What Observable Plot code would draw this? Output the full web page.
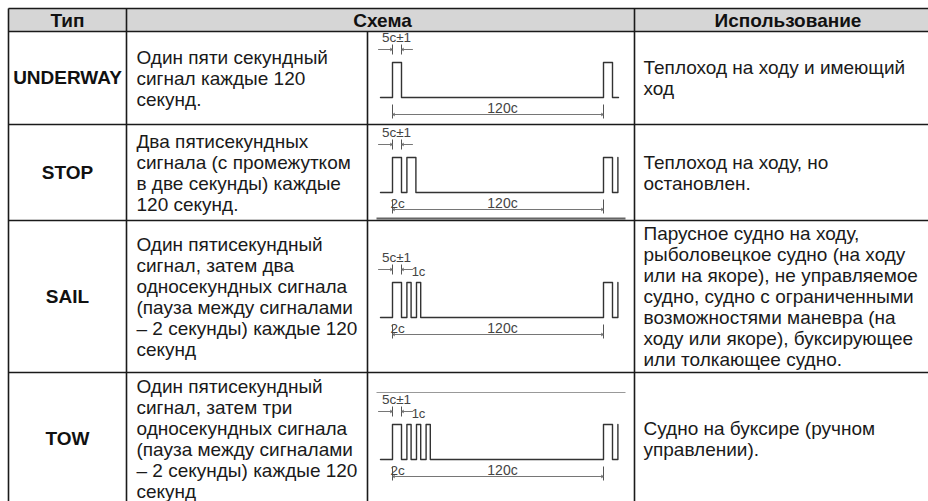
<!DOCTYPE html>
<html><head><meta charset="utf-8">
<script src="https://cdn.jsdelivr.net/npm/d3@7"></script>
<script src="https://cdn.jsdelivr.net/npm/@observablehq/plot@0.6"></script>
<style>body{margin:0;background:#fff}</style>
</head><body><div id="chart"></div>
<script>
// ---- data ----
const headers = ["Тип", "Схема", "Использование"];
const types = ["UNDERWAY", "STOP", "SAIL", "TOW"];
const descriptions = [
  ["Один пяти секундный", "сигнал каждые 120", "секунд."],
  ["Два пятисекундных", "сигнала (с промежутком", "в две секунды) каждые", "120 секунд."],
  ["Один пятисекундный", "сигнал, затем два", "односекундных сигнала", "(пауза между сигналами", "– 2 секунды) каждые 120", "секунд"],
  ["Один пятисекундный", "сигнал, затем три", "односекундных сигнала", "(пауза между сигналами", "– 2 секунды) каждые 120", "секунд"]
];
const usages = [
  ["Теплоход на ходу и имеющий", "ход"],
  ["Теплоход на ходу, но", "остановлен."],
  ["Парусное судно на ходу,", "рыболовецкое судно (на ходу", "или на якоре), не управляемое", "судно, судно с ограниченными", "возможностями маневра (на", "ходу или якоре), буксирующее", "или толкающее судно."],
  ["Судно на буксире (ручном", "управлении)."]
];
// signal patterns: alternating sound / pause durations (s), starting with sound
const patterns = [[5], [5, 2, 5], [5, 2, 1, 2, 1], [5, 2, 1, 2, 1, 2, 1]];
const periodSec = 120;
const longLabel = "5с±1", shortLabel = "1с", gapLabel = "2с", periodLabel = "120с";

// ---- layout ----
const W = 928, H = 501;
const colX = [8, 126, 367, 634, 941];
const headTop = 8, headBot = 31;
const rowB = [31, 124, 220, 372, 504];
const fontSize = 19, lineH = 21;
const font = "'Liberation Sans', Arial, sans-serif";
const diagX0 = 392, periodW = 211, pulseH = 35;
const diagBase = [97, 192, 317, 459];
const segW = d => 3 + 1.2 * d;

// grid segments
const grid = [];
[headTop, headBot, rowB[1], rowB[2], rowB[3]].forEach(y => grid.push({x1: colX[0], x2: W, y1: y, y2: y}));
[colX[0], colX[1], colX[3]].forEach(x => grid.push({x1: x, x2: x, y1: headTop, y2: H}));
grid.push({x1: colX[2], x2: colX[2], y1: headBot, y2: H});

const headerData = [
  {x: (colX[0] + colX[1]) / 2, text: headers[0]},
  {x: (colX[1] + colX[3]) / 2 + 2, text: headers[1]},
  {x: (colX[3] + colX[4]) / 2, text: headers[2]}
];
const rowMid = i => (rowB[i] + rowB[i + 1]) / 2;
const typeData = types.map((t, i) => ({x: (colX[0] + colX[1]) / 2, y: rowMid(i), text: t}));
const descData = descriptions.map((d, i) => ({x: colX[1] + 10, y: rowMid(i), text: d.join("\n")}));
const useData = usages.map((d, i) => ({x: colX[3] + 9, y: rowMid(i), text: d.join("\n")}));

// waveforms
const wavePts = [];
patterns.forEach((p, r) => {
  const b = diagBase[r], h = b - pulseH;
  const add = (x, y) => wavePts.push({row: r, x, y});
  add(diagX0 - 12, b);
  let x = diagX0;
  p.forEach((d, i) => {
    const w = segW(d);
    if (i % 2 === 0) { add(x, b); add(x, h); add(x + w, h); add(x + w, b); }
    x += w;
  });
  x = diagX0 + periodW; // one period (periodSec) later
  const w0 = segW(p[0]);
  add(x, b); add(x, h); add(x + w0, h); add(x + w0, b);
  x += w0;
  if (p.length > 1) { x += segW(p[1]); add(x, b); add(x, h); }
  else add(x + 6, b);
});

// annotations
const ticks = [], arrows = [], labels = [];
patterns.forEach((p, r) => {
  const b = diagBase[r], w0 = segW(p[0]);
  ticks.push({x1: diagX0, x2: diagX0, y1: b - 53, y2: b - 43});
  ticks.push({x1: diagX0 + w0, x2: diagX0 + w0, y1: b - 53, y2: b - 43});
  arrows.push({x1: diagX0 - 14, x2: diagX0, y1: b - 48, y2: b - 48});
  arrows.push({x1: diagX0 + w0 + 11, x2: diagX0 + w0, y1: b - 48, y2: b - 48});
  // period dimension
  ticks.push({x1: diagX0, x2: diagX0, y1: b + 7, y2: b + 21});
  ticks.push({x1: diagX0 + periodW, x2: diagX0 + periodW, y1: b + 7, y2: b + 21});
  arrows.push({x1: diagX0 + periodW / 2, x2: diagX0, y1: b + 17, y2: b + 17});
  arrows.push({x1: diagX0 + periodW / 2, x2: diagX0 + periodW, y1: b + 17, y2: b + 17});
  labels.push({x: diagX0 + 4, y: b - 60, text: longLabel, anchor: "middle", size: 13.5});
  labels.push({x: diagX0 + 110, y: b + 11, text: periodLabel, anchor: "middle", size: 14});
  if (p.length > 1) labels.push({x: diagX0 + 5, y: b + 11, text: gapLabel, anchor: "start", size: 13.5});
  if (p.length > 3) labels.push({x: diagX0 + 26, y: b - 46, text: shortLabel, anchor: "start", size: 13});
});
// scan edges of the pasted diagrams
const scanEdges = [
  {x1: 376, x2: 625, y1: 218, y2: 218, c: "#666", w: 2},
  {x1: 376, x2: 625, y1: 392, y2: 392, c: "#999", w: 1}
];

const chart = Plot.plot({
  width: W, height: H, margin: 0,
  x: {domain: [0, W], range: [0, W], axis: null},
  y: {domain: [0, H], range: [0, H], axis: null},
  style: {fontFamily: font, background: "#fff", overflow: "visible"},
  marks: [
    Plot.rect([{x1: colX[0], x2: W, y1: headTop, y2: headBot}], {x1: "x1", x2: "x2", y1: "y1", y2: "y2", fill: "#d6d6d6"}),
    Plot.link(scanEdges, {x1: "x1", x2: "x2", y1: "y1", y2: "y2", stroke: d => d.c, strokeWidth: d => d.w}),
    Plot.link(grid, {x1: "x1", x2: "x2", y1: "y1", y2: "y2", stroke: "#1a1a1a", strokeWidth: 1.6}),
    Plot.text(headerData, {x: "x", y: () => (headTop + headBot) / 2 + 1, text: "text", fontWeight: "bold", fontSize, fill: "#111"}),
    Plot.text(typeData, {x: "x", y: "y", text: "text", fontWeight: "bold", fontSize, fill: "#111"}),
    Plot.text(descData, {x: "x", y: "y", text: "text", textAnchor: "start", lineAnchor: "middle", lineHeight: lineH / fontSize, fontSize, fill: "#1a1a1a"}),
    Plot.text(useData, {x: "x", y: "y", text: "text", textAnchor: "start", lineAnchor: "middle", lineHeight: lineH / fontSize, fontSize, fill: "#1a1a1a"}),
    Plot.line(wavePts, {x: "x", y: "y", z: "row", stroke: "#333", strokeWidth: 1.4, curve: "linear"}),
    Plot.link(ticks, {x1: "x1", x2: "x2", y1: "y1", y2: "y2", stroke: "#555", strokeWidth: 1}),
    Plot.arrow(arrows, {x1: "x1", x2: "x2", y1: "y1", y2: "y2", stroke: "#666", strokeWidth: 0.9, headLength: 4, bend: 0}),
    Plot.text(labels, {x: "x", y: "y", text: "text", textAnchor: d => d.anchor, fontSize: d => d.size, fill: "#444"})
  ]
});
document.getElementById("chart").appendChild(chart);
</script>
</body></html>
